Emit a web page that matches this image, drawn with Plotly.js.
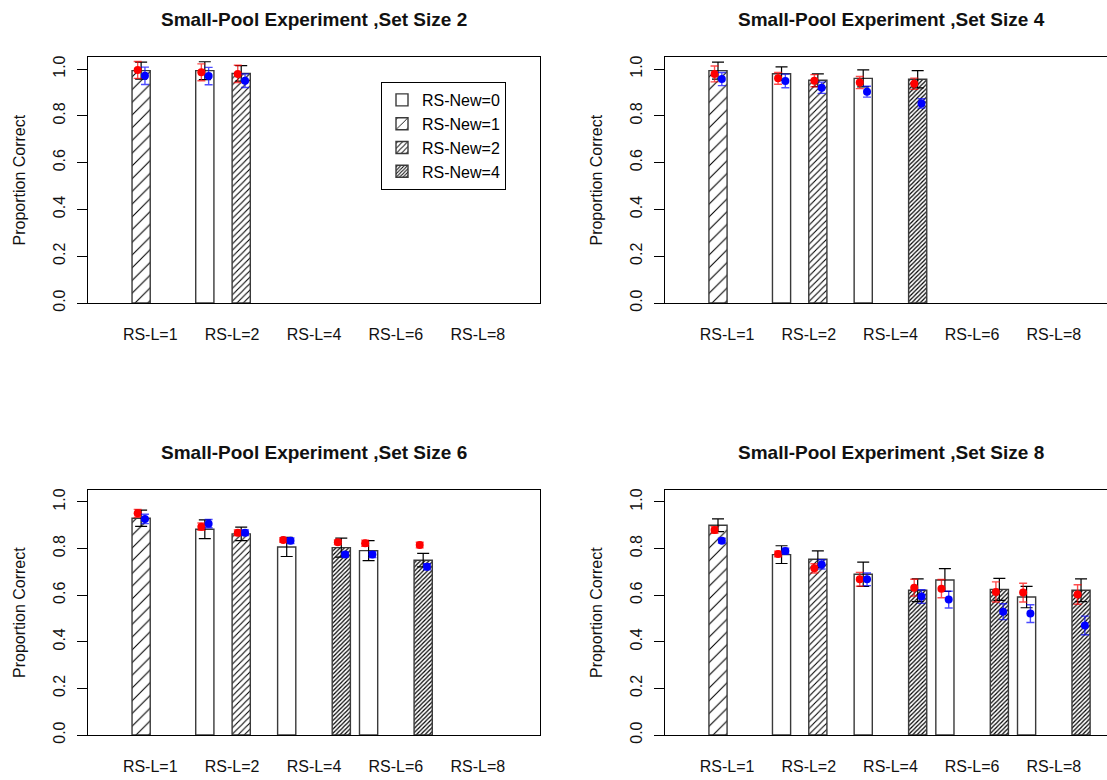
<!DOCTYPE html>
<html>
<head>
<meta charset="utf-8">
<script src="https://cdn.plot.ly/plotly-3.0.1.min.js"></script>
<style>html,body{margin:0;padding:0;overflow:hidden;background:#fff}</style>
</head>
<body>
<div id="chart" style="width:1107px;height:780px"></div>
<script>
// ---------------- DATA ----------------
const categories = ["RS-L=1", "RS-L=2", "RS-L=4", "RS-L=6", "RS-L=8"];
const rsNewLevels = [0, 1, 2, 4];
const setSizes = [2, 4, 6, 8];
// condition list (bar order): category index and RS-New level
const condCategory = [0, 1, 1, 2, 2, 3, 3, 4, 4];
const condRsNew    = [1, 0, 2, 0, 4, 0, 4, 0, 4];

// observed proportion correct (bars) and their SE
const obsSS2 = [0.993, 0.993, 0.981, null, null, null, null, null, null];
const obsSS4 = [0.993, 0.980, 0.952, 0.960, 0.956, null, null, null, null];
const obsSS6 = [0.930, 0.883, 0.863, 0.807, 0.804, 0.791, 0.750, null, null];
const obsSS8 = [0.900, 0.774, 0.754, 0.690, 0.621, 0.665, 0.625, 0.592, 0.621];
const seSS2 = [0.036, 0.038, 0.033, null, null, null, null, null, null];
const seSS4 = [0.036, 0.029, 0.027, 0.036, 0.037, null, null, null, null];
const seSS6 = [0.035, 0.040, 0.029, 0.041, 0.041, 0.043, 0.029, null, null];
const seSS8 = [0.027, 0.038, 0.036, 0.052, 0.049, 0.049, 0.047, 0.046, 0.049];

// red points and error
const redSS2 = [0.996, 0.986, 0.979, null, null, null, null, null, null];
const redSS4 = [0.979, 0.960, 0.950, 0.942, 0.937, null, null, null, null];
const redSS6 = [0.951, 0.894, 0.868, 0.837, 0.827, 0.823, 0.815, null, null];
const redSS8 = [0.880, 0.777, 0.715, 0.668, 0.632, 0.628, 0.614, 0.611, 0.603];
const redErrSS2 = [0.036, 0.036, 0.037, null, null, null, null, null, null];
const redErrSS4 = [0.034, 0.025, 0.026, 0.026, 0.024, null, null, null, null];
const redErrSS6 = [0.017, 0.016, 0.012, 0.010, 0.010, 0.013, 0.012, null, null];
const redErrSS8 = [0.014, 0.012, 0.020, 0.030, 0.036, 0.039, 0.043, 0.040, 0.042];

// blue points and error
const blueSS2 = [0.971, 0.970, 0.950, null, null, null, null, null, null];
const blueSS4 = [0.957, 0.949, 0.920, 0.903, 0.853, null, null, null, null];
const blueSS6 = [0.927, 0.907, 0.868, 0.833, 0.774, 0.774, 0.722, null, null];
const blueSS8 = [0.834, 0.790, 0.732, 0.668, 0.594, 0.581, 0.529, 0.521, 0.470];
const blueErrSS2 = [0.037, 0.037, 0.029, null, null, null, null, null, null];
const blueErrSS4 = [0.028, 0.029, 0.024, 0.023, 0.020, null, null, null, null];
const blueErrSS6 = [0.020, 0.018, 0.012, 0.012, 0.010, 0.013, 0.013, null, null];
const blueErrSS8 = [0.010, 0.012, 0.020, 0.027, 0.029, 0.036, 0.034, 0.038, 0.040];

const yTicks = [0, 0.2, 0.4, 0.6, 0.8, 1.0];
const yTickText = ["0.0", "0.2", "0.4", "0.6", "0.8", "1.0"];

// ---------------- LAYOUT / DRAWING ----------------
const obs = [obsSS2, obsSS4, obsSS6, obsSS8];
const se = [seSS2, seSS4, seSS6, seSS8];
const red = [redSS2, redSS4, redSS6, redSS8];
const redErr = [redErrSS2, redErrSS4, redErrSS6, redErrSS8];
const blue = [blueSS2, blueSS4, blueSS6, blueSS8];
const blueErr = [blueErrSS2, blueErrSS4, blueErrSS6, blueErrSS8];

const W = 1107, H = 780;
const FONT = "Liberation Sans, Arial, Helvetica, sans-serif";
// barplot geometry: 4 bars per group, bar width 1, group gap 0.5
const groupStep = 4.5;
function barX(c) { return 1 + groupStep * condCategory[c] + rsNewLevels.indexOf(condRsNew[c]); }
const groupCenters = categories.map((_, g) => 2.5 + groupStep * g);

const patternStyle = {
  0: {shape: "", size: 8, solidity: 0.2},
  1: {shape: "/", size: 9, solidity: 0.12},
  2: {shape: "/", size: 4.5, solidity: 0.24},
  4: {shape: "/", size: 3, solidity: 0.4}
};

const panels = [
  {xd: [88 / W, 540 / W], yd: [(H - 303) / H, (H - 57.3) / H], xr: [-0.92, 23.92], mirrorY: true},
  {xd: [665 / W, 1], yd: [(H - 303) / H, (H - 57.3) / H], xr: [-0.92, 23.43], mirrorY: false},
  {xd: [88 / W, 540 / W], yd: [(H - 735) / H, (H - 490.3) / H], xr: [-0.92, 23.92], mirrorY: true},
  {xd: [665 / W, 1], yd: [(H - 735) / H, (H - 490.3) / H], xr: [-0.92, 23.43], mirrorY: false}
];

const data = [];
const layout = {
  width: W, height: H, autosize: false,
  margin: {l: 0, r: 0, t: 0, b: 0},
  paper_bgcolor: "#fff", plot_bgcolor: "#fff",
  font: {family: FONT, size: 16, color: "#000"},
  barmode: "overlay",
  showlegend: true,
  legend: {
    x: 381 / W, y: 1 - 82 / H, xanchor: "left", yanchor: "top",
    bordercolor: "#000", borderwidth: 1, bgcolor: "#fff",
    font: {family: FONT, size: 16}, itemwidth: 30, traceorder: "normal",
    tracegroupgap: 0
  },
  annotations: []
};

panels.forEach((p, i) => {
  const n = i + 1;
  const xa = "x" + n, ya = "y" + n;
  rsNewLevels.forEach(level => {
    const xs = [], ys = [], es = [];
    obs[i].forEach((v, c) => {
      if (v !== null && condRsNew[c] === level) { xs.push(barX(c)); ys.push(v); es.push(se[i][c]); }
    });
    const ps = patternStyle[level];
    data.push({
      type: "bar", name: "RS-New=" + level, x: xs, y: ys, width: 1,
      xaxis: xa, yaxis: ya, showlegend: i === 3, legendgroup: "n" + level,
      marker: {
        color: "#fff",
        line: {color: "#3a3a3a", width: 1.4},
        pattern: {shape: ps.shape, size: ps.size, solidity: ps.solidity, fgcolor: "#000", bgcolor: "#fff", fillmode: "replace"}
      },
      error_y: {type: "data", array: es, visible: true, color: "#000", thickness: 1.2, width: 6},
      hoverinfo: "skip"
    });
  });
  [[red[i], redErr[i], "#ff0000", "rgba(255,0,0,0.7)", -0.19, "red"],
   [blue[i], blueErr[i], "#0000ff", "rgba(0,0,255,0.7)", 0.21, "blue"]].forEach(s => {
    const xs = [], ys = [], es = [];
    s[0].forEach((v, c) => {
      if (v !== null) { xs.push(barX(c) + s[4]); ys.push(v); es.push(s[1][c]); }
    });
    data.push({
      type: "scatter", mode: "markers", name: s[5], x: xs, y: ys,
      xaxis: xa, yaxis: ya, showlegend: false,
      marker: {color: s[2], size: 8},
      error_y: {type: "data", array: es, visible: true, color: s[3], thickness: 1.4, width: 4},
      hoverinfo: "skip"
    });
  });

  layout["xaxis" + n] = {
    domain: p.xd, range: p.xr, anchor: ya,
    tickmode: "array", tickvals: groupCenters, ticktext: categories,
    ticks: "", showline: true, mirror: true, linecolor: "#000", linewidth: 1,
    showgrid: false, zeroline: false, ticklabelstandoff: 17,
    tickfont: {family: FONT, size: 16, color: "#111"}, fixedrange: true
  };
  layout["yaxis" + n] = {
    domain: p.yd, range: [0, 1.05], anchor: xa,
    tickmode: "array", tickvals: yTicks, ticktext: yTickText,
    ticks: "outside", ticklen: 10, tickcolor: "#000", tickwidth: 1, tickangle: -90,
    showline: true, mirror: p.mirrorY, linecolor: "#000", linewidth: 1,
    showgrid: false, zeroline: false, ticklabelstandoff: 6,
    tickfont: {family: FONT, size: 16, color: "#111"}, fixedrange: true,
    title: {text: "Proportion Correct", font: {family: FONT, size: 16, color: "#111"}, standoff: 20}
  };
  layout.annotations.push({
    xref: "paper", yref: "paper",
    x: (p.xd[0] + (i % 2 === 0 ? p.xd[1] : (665 + 452) / W)) / 2,
    y: p.yd[1] + 38 / H, xanchor: "center", yanchor: "middle",
    text: "<b>Small-Pool Experiment ,Set Size " + setSizes[i] + "</b>",
    showarrow: false, font: {family: FONT, size: 19, color: "#111"}
  });
});

Plotly.newPlot("chart", data, layout, {staticPlot: true, displayModeBar: false});
</script>
</body>
</html>
